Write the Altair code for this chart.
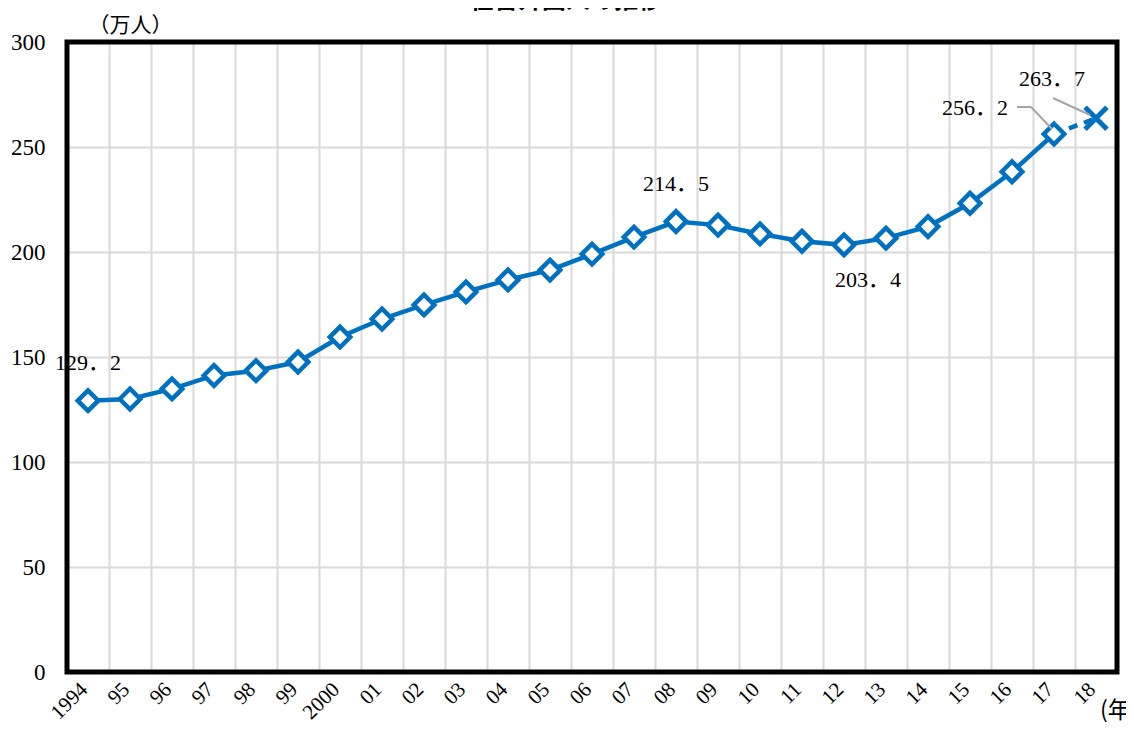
import altair as alt
import pandas as pd

# ---- data ----
title_text = "在留外国人の推移"
y_unit = "（万人）"
x_unit = "(年"
year_labels = ["1994", "95", "96", "97", "98", "99", "2000", "01", "02", "03", "04",
               "05", "06", "07", "08", "09", "10", "11", "12", "13", "14", "15",
               "16", "17", "18"]
values = [129.2, 130.0, 134.8, 141.2, 143.5, 147.6, 159.5, 168.1, 174.8, 181.0, 186.7,
          191.4, 199.0, 207.1, 214.5, 212.8, 208.6, 205.1, 203.4, 206.6, 212.1, 223.2,
          238.2, 256.2, 263.7]
y_ticks = [0, 50, 100, 150, 200, 250, 300]
labelled_years = ["1994", "08", "12", "17", "18"]

W, H = 1050, 630
BLUE = "#0070C0"
GRID = "#d9d9d9"
SERIF = "Liberation Serif, 'Noto Sans CJK JP'"

df = pd.DataFrame({"year": year_labels, "value": values})
df["kind"] = ["est" if y == "18" else "obs" for y in year_labels]
df["txt"] = [f"{v:.1f}".replace(".", "．") for v in values]

xenc = alt.X(
    "year:N", sort=year_labels, bandPosition=0.5,
    scale=alt.Scale(type="band", paddingInner=0, paddingOuter=0),
    axis=alt.Axis(title=None, grid=True, tickBand="extent", gridColor=GRID, gridWidth=2,
                  domain=False, ticks=False, labelAngle=-45, labelAlign="right",
                  labelBaseline="middle", labelPadding=14, labelOffset=-4,
                  labelFont=SERIF, labelFontSize=21, labelColor="black",
                  labelOverlap=False),
)
yenc = alt.Y(
    "value:Q", scale=alt.Scale(domain=[0, 300], nice=False, zero=True),
    axis=alt.Axis(values=y_ticks, grid=True, gridColor=GRID, gridWidth=2, domain=False,
                  ticks=False, labelFont=SERIF, labelFontSize=23, labelColor="black",
                  labelPadding=22, title=y_unit, titleAngle=0, titleX=63, titleY=-11,
                  titleAlign="center", titleBaseline="alphabetic",
                  titleFont="Noto Sans CJK JP", titleFontWeight="normal",
                  titleFontSize=21, titleColor="black"),
)

base = alt.Chart(df).encode(x=xenc, y=yenc)

solid = base.transform_filter("datum.year != '18'").mark_line(color=BLUE, strokeWidth=4.5)
dashed = base.transform_filter("datum.year == '17' || datum.year == '18'").mark_line(
    color=BLUE, strokeWidth=4.5, strokeDash=[9, 7])
diamonds = base.transform_filter("datum.kind == 'obs'").mark_point(
    shape="diamond", size=420, filled=True, fill="white", stroke=BLUE, strokeWidth=4.5,
    opacity=1)
cross = base.transform_filter("datum.kind == 'est'").mark_point(
    shape="M-1,-1L1,1M-1,1L1,-1", size=480, stroke=BLUE, strokeWidth=5, opacity=1)

offsets = {"1994": (0, -38), "08": (0, -38), "12": (24, 35), "17": (-79, -26),
           "18": (-44, -39)}
text_layers = []
for yr in labelled_years:
    dx, dy = offsets[yr]
    text_layers.append(
        base.transform_filter(f"datum.year == '{yr}'").mark_text(
            font=SERIF, fontSize=22, color="black", align="center", baseline="middle",
            dx=dx, dy=dy).encode(text="txt:N"))

leader_pts = pd.DataFrame({"k": [0]})
lead_style = dict(color="#a6a6a6", strokeWidth=2)
leaders = [
    alt.Chart(leader_pts).mark_rule(**lead_style).encode(
        x=alt.value(950), y=alt.value(65), x2=alt.value(964), y2=alt.value(65)),
    alt.Chart(leader_pts).mark_rule(**lead_style).encode(
        x=alt.value(964), y=alt.value(65), x2=alt.value(985), y2=alt.value(87)),
    alt.Chart(leader_pts).mark_rule(**lead_style).encode(
        x=alt.value(986), y=alt.value(56), x2=alt.value(1023), y2=alt.value(73)),
]

frame = alt.Chart(leader_pts).mark_rect(fill=None, stroke="black", strokeWidth=5).encode(
    x=alt.value(0), x2=alt.value(W), y=alt.value(0), y2=alt.value(H))

title = alt.Chart(pd.DataFrame({"t": [title_text]})).mark_text(
    font="Noto Sans CJK JP", fontSize=24, fontWeight="bold", color="black",
    align="center", baseline="alphabetic").encode(
    text="t:N", x=alt.value(499), y=alt.value(-34))

xunit = alt.Chart(pd.DataFrame({"t": [x_unit]})).mark_text(
    font="Noto Sans CJK JP", fontSize=23, color="black", align="left",
    baseline="middle").encode(text="t:N", x=alt.value(1033), y=alt.value(H + 39))

chart = alt.layer(
    solid, dashed, diamonds, cross, *text_layers, *leaders, frame, title, xunit
).properties(
    width=W, height=H,
    autosize=alt.AutoSizeParams(type="none"),
    padding={"left": 59, "top": 34, "right": 9, "bottom": 57},
    background="white",
).configure_view(stroke=None)

chart.save("out.html", embed_options={"renderer": "svg", "actions": False})
